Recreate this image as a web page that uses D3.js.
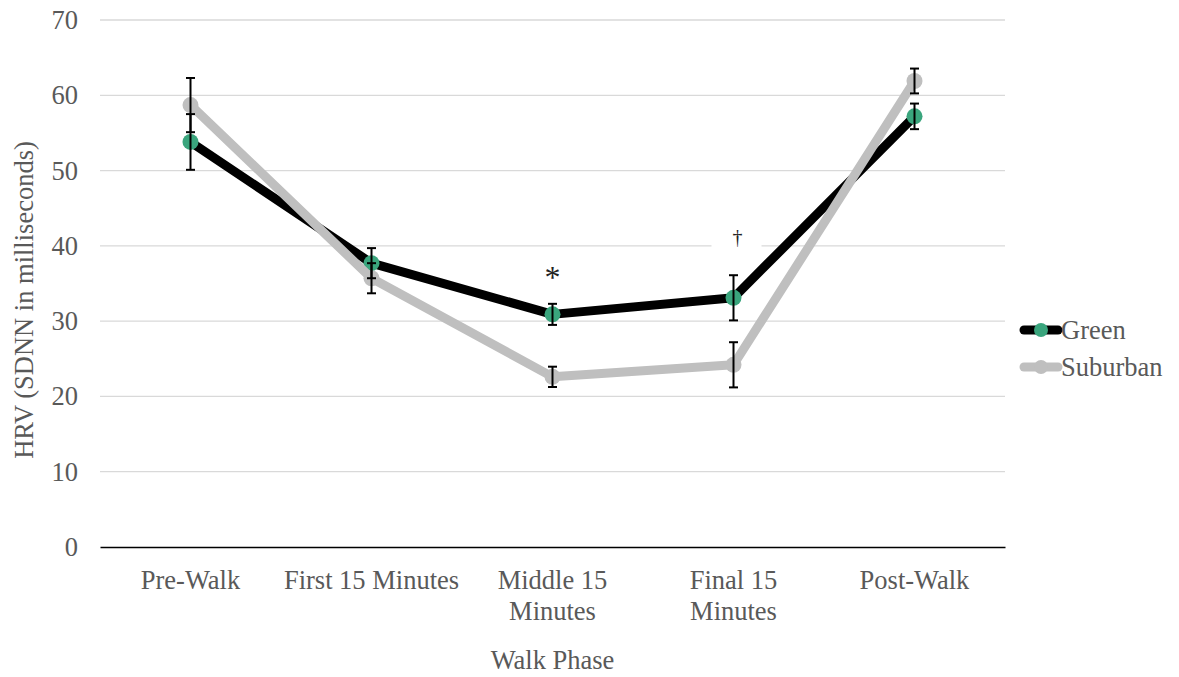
<!DOCTYPE html>
<html><head><meta charset="utf-8">
<script src="https://cdn.jsdelivr.net/npm/d3@7"></script>
<style>body{margin:0;background:#fff;} svg{display:block;}</style>
</head><body>
<svg id="c" width="1179" height="677"></svg>
<script>
const categories = ["Pre-Walk", "First 15 Minutes", "Middle 15 Minutes", "Final 15 Minutes", "Post-Walk"];
const categoryLines = [["Pre-Walk"], ["First 15 Minutes"], ["Middle 15", "Minutes"], ["Final 15", "Minutes"], ["Post-Walk"]];
const greenValues = [53.8, 37.7, 30.9, 33.1, 57.2];
const greenErrors = [3.7, 2.0, 1.4, 3.0, 1.7];
const suburbanValues = [58.7, 35.7, 22.6, 24.2, 61.9];
const suburbanErrors = [3.6, 2.0, 1.35, 3.0, 1.65];
const yTicks = [0, 10, 20, 30, 40, 50, 60, 70];
const annotations = [{cat: "Middle 15 Minutes", value: 34.4, text: "*"}, {cat: "Final 15 Minutes", value: 40.2, text: "†"}];

(function() {
const svg = d3.select("#c");
const font = "'Liberation Serif', 'Times New Roman', serif";
const fs = 26.5;
const pLeft = 100, pRight = 1005, pTop = 20, pBottom = 547;
const x = d3.scaleBand().domain(categories).range([pLeft, pRight]);
const y = d3.scaleLinear().domain([0, 70]).range([pBottom, pTop]);
const cx = c => x(c) + x.bandwidth() / 2;

// gridlines
svg.append("g").selectAll("line").data(yTicks.filter(d => d > 0)).join("line")
  .attr("x1", pLeft).attr("x2", pRight).attr("y1", d => y(d)).attr("y2", d => y(d))
  .attr("stroke", "#d9d9d9").attr("stroke-width", 1.3);

// y axis labels
const yAxis = svg.append("g").attr("transform", `translate(${pLeft},0)`)
  .call(d3.axisLeft(y).tickValues(yTicks).tickSize(0).tickPadding(22));
yAxis.select(".domain").remove();
yAxis.selectAll("text").attr("font-family", font).attr("font-size", fs).attr("fill", "#595959");

// x axis
const xAxis = svg.append("g").attr("transform", `translate(0,${pBottom})`)
  .call(d3.axisBottom(x).tickSize(0).tickFormat(""));
xAxis.select(".domain").attr("stroke", "#000").attr("stroke-width", 1.3);
svg.append("g").selectAll("text").data(categories).join("text")
  .attr("x", d => cx(d)).attr("y", 589)
  .attr("text-anchor", "middle").attr("font-family", font).attr("font-size", fs).attr("fill", "#595959")
  .each(function(d, i) {
    const t = d3.select(this);
    categoryLines[i].forEach((ln, j) => t.append("tspan").attr("x", cx(d)).attr("dy", j === 0 ? 0 : 31).text(ln));
  });

// axis titles
svg.append("text").attr("x", cx(categories[2])).attr("y", 669).attr("text-anchor", "middle")
  .attr("font-family", font).attr("font-size", fs).attr("fill", "#595959").text("Walk Phase");
svg.append("text").attr("transform", `translate(33,300) rotate(-90)`).attr("text-anchor", "middle")
  .attr("font-family", font).attr("font-size", fs).attr("fill", "#595959").text("HRV (SDNN in milliseconds)");

// annotations
annotations.forEach(a => {
  const g = svg.append("g");
  if (a.text !== "*") {
    g.append("rect").attr("x", cx(a.cat) - 22).attr("y", y(a.value) - 16).attr("width", 50).attr("height", 22).attr("fill", "#fff");
  }
  g.append("text").attr("x", cx(a.cat) + (a.text === "*" ? 0 : 4)).attr("y", y(a.value)).attr("text-anchor", "middle")
    .attr("font-family", font).attr("font-size", a.text === "*" ? 32 : 20).attr("fill", "#222").text(a.text);
});

const series = [
  {name: "Green", values: greenValues, errors: greenErrors, line: "#000000", marker: "#3aa57d"},
  {name: "Suburban", values: suburbanValues, errors: suburbanErrors, line: "#bfbfbf", marker: "#bfbfbf"}
];
const lineGen = d3.line().x((d, i) => cx(categories[i])).y(d => y(d));

series.forEach(s => {
  svg.append("path").datum(s.values).attr("d", lineGen).attr("fill", "none")
    .attr("stroke", s.line).attr("stroke-width", 9).attr("stroke-linejoin", "round").attr("stroke-linecap", "round");
  svg.append("g").selectAll("circle").data(s.values).join("circle")
    .attr("cx", (d, i) => cx(categories[i])).attr("cy", d => y(d)).attr("r", 8).attr("fill", s.marker);
});

// error bars
series.forEach(s => {
  const g = svg.append("g").attr("stroke", "#000").attr("stroke-width", 2);
  s.values.forEach((v, i) => {
    const xx = cx(categories[i]);
    const y1 = y(v + s.errors[i]), y2 = y(v - s.errors[i]);
    g.append("line").attr("x1", xx).attr("x2", xx).attr("y1", y1).attr("y2", y2);
    g.append("line").attr("x1", xx - 4.5).attr("x2", xx + 4.5).attr("y1", y1).attr("y2", y1);
    g.append("line").attr("x1", xx - 4.5).attr("x2", xx + 4.5).attr("y1", y2).attr("y2", y2);
  });
});

// legend
series.forEach((s, i) => {
  const ly = 330 + i * 37;
  const g = svg.append("g");
  g.append("line").attr("x1", 1024).attr("x2", 1058).attr("y1", ly).attr("y2", ly)
    .attr("stroke", s.line).attr("stroke-width", 9).attr("stroke-linecap", "round");
  g.append("circle").attr("cx", 1041).attr("cy", ly).attr("r", 7).attr("fill", s.marker);
  g.append("text").attr("x", 1061).attr("y", ly + 9).attr("font-family", font).attr("font-size", fs)
    .attr("fill", "#595959").text(s.name);
});
})();
</script>
</body></html>
